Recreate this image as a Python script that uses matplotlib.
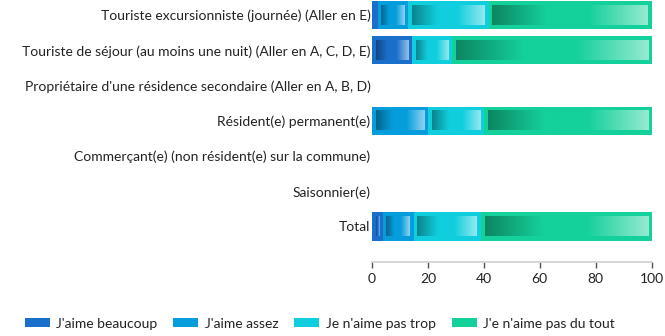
import numpy as np
import matplotlib
matplotlib.use("Agg")
import matplotlib.pyplot as plt
from matplotlib.patches import Patch
from matplotlib.colors import to_rgb

plt.rcParams['font.family'] = ['Lato', 'DejaVu Sans']

categories = [
    "Touriste excursionniste (journée) (Aller en E)",
    "Touriste de séjour (au moins une nuit) (Aller en A, C, D, E)",
    "Propriétaire d'une résidence secondaire (Aller en A, B, D)",
    "Résident(e) permanent(e)",
    "Commerçant(e) (non résident(e) sur la commune)",
    "Saisonnier(e)",
    "Total",
]
series_names = ["J'aime beaucoup", "J'aime assez", "Je n'aime pas trop", "J'e n'aime pas du tout"]
aime_beaucoup = [2.0, 14.3, 0, 0, 0, 0, 3.8]
aime_assez = [11.0, 0, 0, 20.0, 0, 0, 11.1]
aime_pas_trop = [28.7, 14.3, 0, 20.0, 0, 0, 24.0]
aime_pas_du_tout = [58.3, 71.4, 0, 60.0, 0, 0, 61.1]
series = [aime_beaucoup, aime_assez, aime_pas_trop, aime_pas_du_tout]
colors = ["#1a6fcb", "#069ddc", "#10cedd", "#14d09a"]
x_ticks = [0, 20, 40, 60, 80, 100]

FS = 10

fig = plt.figure(figsize=(6.65, 3.36), dpi=100)
ax = fig.add_axes([0.5594, 0.2212, 0.4205, 0.7788])

bar_h = 0.8
px_per_x = 280 / 100.0
px_per_y = 35.2
ins_x = 3.8 / px_per_x
ins_y = 4.5 / px_per_y


def gradient_strip(rgb, n=256):
    rgb = np.array(rgb)
    dark = rgb * 0.64
    light = rgb + (1 - rgb) * 0.55
    t = np.linspace(0, 1, n)
    out = np.zeros((1, n, 3))
    for i, v in enumerate(t):
        if v < 0.35:
            a = v / 0.35
            c = dark * (1 - a) + rgb * a
        elif v < 0.62:
            c = rgb
        else:
            a = (v - 0.62) / 0.38
            c = rgb * (1 - a) + light * a
        out[0, i] = c
    return out


y = np.arange(len(categories))
left = np.zeros(len(categories))
for vals, col in zip(series, colors):
    vals = np.array(vals, dtype=float)
    ax.barh(y, vals, left=left, height=bar_h, color=col, linewidth=0)
    strip = gradient_strip(to_rgb(col))
    for yi, (l, w) in enumerate(zip(left, vals)):
        if w > 2 * ins_x + 0.3:
            ax.imshow(strip, extent=(l + ins_x, l + w - ins_x,
                                     yi + bar_h / 2 - ins_y, yi - bar_h / 2 + ins_y),
                      aspect='auto', interpolation='bilinear', zorder=3)
    left += vals

ax.set_xlim(0, 100)
ax.set_ylim(7.0, -0.43)
ax.set_yticks(y)
ax.set_yticklabels(categories, fontsize=FS, color="#222222")
ax.tick_params(axis='y', length=0, pad=1)
ax.set_xticks(x_ticks)
ax.set_xticklabels([str(t) for t in x_ticks], fontsize=FS, color="#222222")
ax.tick_params(axis='x', length=4, width=1, color="#555555", pad=4)
for s in ['top', 'right', 'left']:
    ax.spines[s].set_visible(False)
ax.spines['bottom'].set_color("#d0d0d0")
ax.spines['bottom'].set_linewidth(1.2)

handles = [Patch(facecolor=c, edgecolor='none') for c in colors]
fig.legend(handles, series_names, loc='center left', bbox_to_anchor=(25 / 665, 0.037),
           ncol=4, frameon=False, fontsize=FS, handlelength=1.8, handleheight=0.65,
           columnspacing=1.15, handletextpad=0.45, borderpad=0, borderaxespad=0,
           labelcolor="#222222")

fig.savefig("out.png", dpi=100)
